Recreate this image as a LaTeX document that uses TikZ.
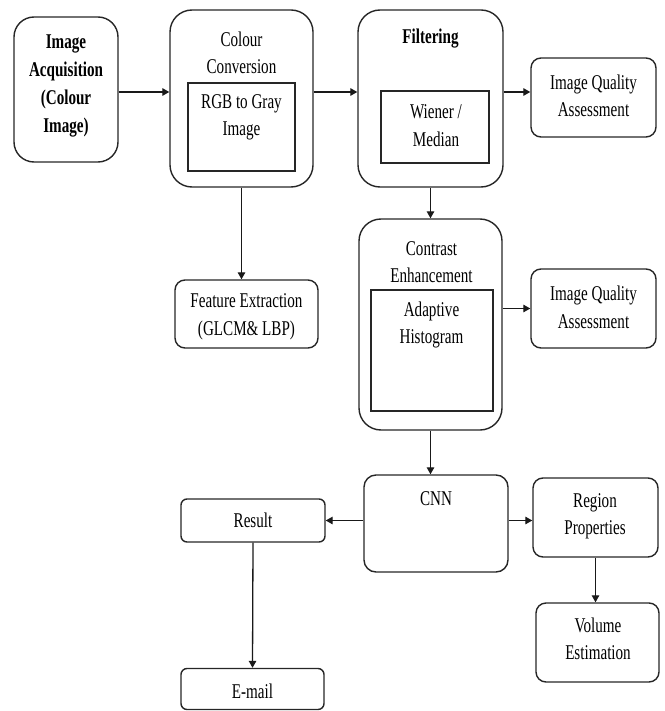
\documentclass[tikz,border=0pt]{standalone}
\usepackage{fontspec}
\setmainfont[FakeStretch=0.72]{Liberation Serif}
\usetikzlibrary{arrows.meta}
\begin{document}
\begin{tikzpicture}[x=1pt,y=-1pt,
  every node/.style={font=\fontsize{21}{27.5}\selectfont, inner sep=0pt, align=center},
  box/.style={draw=black!85, line width=1.4pt, rounded corners=#1},
  box/.default=10pt,
  inbox/.style={draw=black!85, line width=1.2pt},
  arr/.style={draw=black!90, line width=1.3pt, -{Triangle[length=7pt,width=7.5pt]}},
  bt/.style={font=\fontsize{21}{28}\selectfont\bfseries}]
\useasboundingbox (0,0) rectangle (664,711);
% boxes
\node[box=20pt, minimum width=104pt, minimum height=145pt] (b1) at (66,89.5) {};
\node[box=22pt, minimum width=143pt, minimum height=177pt] (b2) at (241.5,98.5) {};
\node[inbox, minimum width=107pt, minimum height=88pt] (b2in) at (241.5,127) {};
\node[box=22pt, minimum width=145pt, minimum height=177pt] (b3) at (430.5,98.5) {};
\node[inbox, minimum width=108pt, minimum height=72pt] (b3in) at (435,127) {};
\node[box=10pt, minimum width=125pt, minimum height=79pt] (iqa1) at (593.5,97.5) {};
\node[box=22pt, minimum width=143pt, minimum height=211pt] (ce) at (430.5,324.5) {};
\node[inbox, minimum width=122pt, minimum height=121pt] (cein) at (432,350.5) {};
\node[box=10pt, minimum width=125pt, minimum height=79pt] (iqa2) at (593.5,308.5) {};
\node[box=10pt, minimum width=143pt, minimum height=68pt] (fe) at (246.5,314) {};
\node[box=12pt, minimum width=144pt, minimum height=97pt] (cnn) at (436,523.5) {};
\node[box=6pt, minimum width=144pt, minimum height=43pt] (res) at (253,520.5) {};
\node[box=6pt, minimum width=143pt, minimum height=41pt] (email) at (252.5,689) {};
\node[box=10pt, minimum width=125pt, minimum height=79pt] (reg) at (595.5,517.5) {};
\node[box=10pt, minimum width=123pt, minimum height=79pt] (vol) at (597.5,642.5) {};
% texts
\node[bt] (t1) at (66,86) {Image\\Acquisition\\(Colour\\Image)};
\node (t2) at (241.5,53) {Colour\\Conversion};
\node (t2in) at (241.5,117.5) {RGB to Gray\\Image};
\node[bt] (t3) at (430.5,39) {Filtering};
\node (t3in) at (436,125.5) {Wiener /\\Median};
\node (tq1) at (593.5,96) {Image Quality\\Assessment};
\node (tce) at (431.5,262) {Contrast\\Enhancement};
\node (tcein) at (431.5,325) {Adaptive\\Histogram};
\node (tq2) at (593.5,307.5) {Image Quality\\Assessment};
\node (tfe) at (246.5,317) {Feature Extraction\\(GLCM\& LBP)};
\node (tcnn) at (436,499) {CNN};
\node (tres) at (253,520) {Result};
\node (tem) at (252.5,691) {E-mail};
\node (treg) at (595,516.5) {Region\\Properties};
\node (tvol) at (598,639) {Volume\\Estimation};
% connectors
\coordinate (r1) at (0,92);
\draw[arr] (b1.east |- r1) -- (b2.west |- r1);
\draw[arr] (b2.east |- r1) -- (b3.west |- r1);
\draw[arr] (b3.east |- r1) -- (iqa1.west |- r1);
\draw[arr] (b2.south) -- (b2.south |- fe.north);
\draw[arr] (b3.south) -- (b3.south |- ce.north);
\draw[arr] (iqa2.west -| ce.east) -- (iqa2.west);
\draw[arr] (ce.south) -- (ce.south |- cnn.north);
\draw[arr] (res.east -| cnn.west) -- (res.east);
\draw[arr] (cnn.east |- res.east) -- (reg.west |- res.east);
\draw[arr] (res.south) -- (email.north);
\draw[arr] (reg.south) -- (reg.south |- vol.north);
\end{tikzpicture}
\end{document}
